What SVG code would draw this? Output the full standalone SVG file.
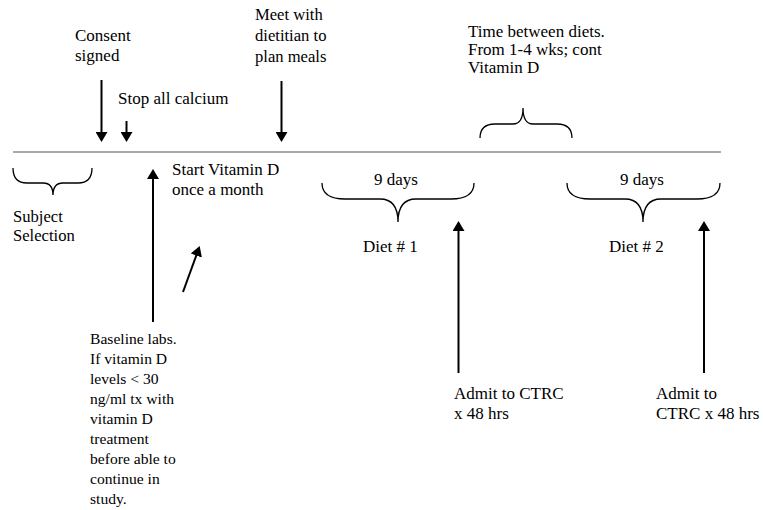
<svg xmlns="http://www.w3.org/2000/svg" width="763" height="510" viewBox="0 0 763 510">
<style>
text{font-family:"Liberation Serif","Times New Roman",serif;font-size:17px;fill:#000}
.sm{font-size:15.6px}
.ar{stroke:#000;stroke-width:2;fill:none;marker-end:url(#ah)}
.br{stroke:#000;stroke-width:1.3;fill:none}
.tl{stroke:#8c8c8c;stroke-width:1.5}
</style>
<defs>
<marker id="ah" viewBox="0 0 10 12" refX="8" refY="6" markerWidth="5" markerHeight="6" orient="auto" markerUnits="strokeWidth">
<path d="M0,0 L10,6 L0,12 Z" fill="#000"/>
</marker>
</defs>
<line class="tl" x1="13" y1="152" x2="721" y2="152"/>
<g id="consent"><text x="75" y="41">Consent</text><text x="75" y="61">signed</text></g>
<g id="stop-calcium"><text x="118" y="104">Stop all calcium</text></g>
<g id="meet-dietitian"><text x="255" y="20" style="font-size:16.6px">Meet with</text><text x="255" y="41" style="font-size:16.6px">dietitian to</text><text x="255" y="62" style="font-size:16.6px">plan meals</text></g>
<g id="time-between"><text x="468" y="37">Time between diets.</text><text x="468" y="55">From 1-4 wks; cont</text><text x="468" y="73">Vitamin D</text>
<path class="br" d="M480,138 C480,129 485,124 495,124 L513,124 C520,124 523,118 523,108 C523,118 526,124 533,124 L557,124 C567,124 572,129 572,138"/></g>
<g id="subject-selection"><path class="br" d="M13,168 C13,178 17,183 27,183 L43,183 C50,183 53,187 53,195 C53,187 56,183 63,183 L78,183 C88,183 92,178 92,168"/>
<text x="13" y="222" style="font-size:16.6px">Subject</text><text x="13" y="241" style="font-size:16.6px">Selection</text></g>
<g id="start-vitd"><text x="172" y="175">Start Vitamin D</text><text x="172" y="195">once a month</text></g>
<g id="baseline-labs"><text class="sm" x="90" y="344">Baseline labs.</text><text class="sm" x="90" y="364">If vitamin D</text><text class="sm" x="90" y="384">levels &lt; 30</text><text class="sm" x="90" y="404">ng/ml tx with</text><text class="sm" x="90" y="424">vitamin D</text><text class="sm" x="90" y="444">treatment</text><text class="sm" x="90" y="464">before able to</text><text class="sm" x="90" y="484">continue in</text><text class="sm" x="90" y="504">study.</text></g>
<g id="diet1"><text x="396" y="185" text-anchor="middle">9 days</text>
<path class="br" d="M322,183 C322,194 330,199 345,199 L380,199 C392,199 398,207 398,222 C398,207 404,199 416,199 L451,199 C466,199 474,194 474,183"/>
<text x="363" y="252">Diet # 1</text></g>
<g id="diet2"><text x="642" y="185" text-anchor="middle">9 days</text>
<path class="br" d="M567,183 C567,194 575,199 590,199 L625,199 C637,199 643,207 643,222 C643,207 649,199 661,199 L697,199 C712,199 720,194 720,183"/>
<text x="609" y="252">Diet # 2</text></g>
<g id="admit1"><text x="454" y="399">Admit to CTRC</text><text x="454" y="419">x 48 hrs</text></g>
<g id="admit2"><text x="656" y="399">Admit to</text><text x="656" y="419">CTRC x 48 hrs</text></g>
<g id="connectors">
<line class="ar" x1="101.5" y1="80" x2="101.5" y2="140"/>
<line class="ar" x1="126.5" y1="121" x2="126.5" y2="140"/>
<line class="ar" x1="281.5" y1="81" x2="281.5" y2="140"/>
<line class="ar" x1="153" y1="322" x2="153" y2="171"/>
<line class="ar" x1="183" y1="292" x2="199" y2="248"/>
<line class="ar" x1="458.5" y1="373" x2="458.5" y2="223"/>
<line class="ar" x1="704" y1="373" x2="704" y2="223"/>
</g>
</svg>
